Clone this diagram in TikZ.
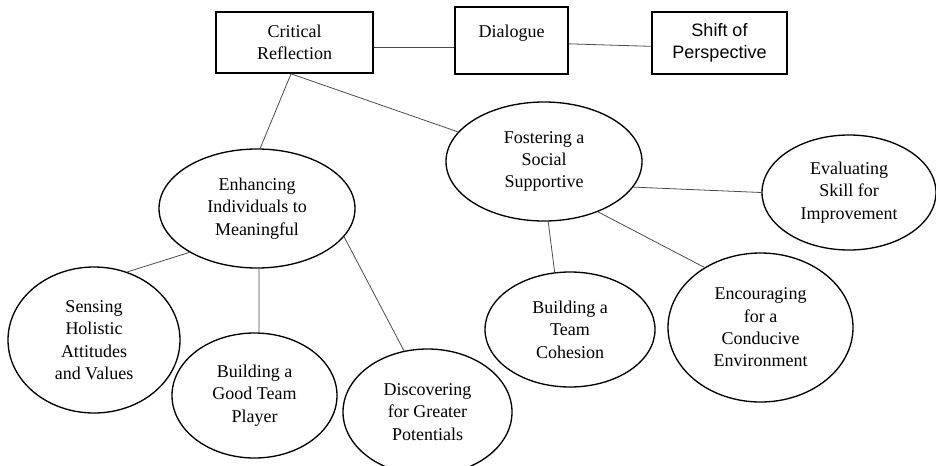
\documentclass[tikz,border=0pt]{standalone}
\usepackage{fontspec}
\setmainfont{Liberation Serif}
\newfontfamily\arialfont{Liberation Sans}
\usetikzlibrary{shapes.geometric}
\tikzset{box/.style = {draw, rectangle, line width = 1.2pt, inner sep = 0, align = center}}
\tikzset{oval/.style = {draw, ellipse, line width = 1pt, inner sep = 0, align = center}}
\tikzset{link/.style = {draw = black!70, line width = 0.6pt}}

\begin{document}
\begin{tikzpicture}[x = 0.75pt, y = -0.75pt, font = \fontsize{13.5}{16.8}\selectfont]
    \useasboundingbox (0,0) rectangle (936,465);
    % top row
    \node[box, minimum width = 117.75pt, minimum height = 45.75pt] (crit) at (294.5,42.5) {Critical\\Reflection};
    \node[box, minimum width = 84.75pt, minimum height = 50.25pt, text height = 9pt, text depth = 14pt] (dia) at (511.5,40.5) {Dialogue};
    \node[box, minimum width = 101.25pt, minimum height = 46.5pt, font = \arialfont\fontsize{13.5}{16.8}\selectfont] (shi) at (719.5,43) {Shift of\\Perspective};
    % ovals
    \node[oval, minimum width = 147pt, minimum height = 89.25pt] (enh) at (257,208.5) {Enhancing\\Individuals to\\Meaningful};
    \node[oval, minimum width = 147pt, minimum height = 89.25pt] (fos) at (544,161.5) {Fostering a\\Social\\Supportive};
    \node[oval, minimum width = 130.5pt, minimum height = 86.25pt] (eva) at (849,192.5) {Evaluating\\Skill for\\Improvement};
    \node[oval, minimum width = 129pt, minimum height = 109.5pt] (sen) at (94,340) {Sensing\\Holistic\\Attitudes\\and Values};
    \node[oval, minimum width = 123.75pt, minimum height = 93.75pt] (bgp) at (254.5,395.5) {Building a\\Good Team\\Player};
    \node[oval, minimum width = 126.75pt, minimum height = 94.5pt] (dis) at (427.5,412) {Discovering\\for Greater\\Potentials};
    \node[oval, minimum width = 127.5pt, minimum height = 86.25pt] (btc) at (570,329.5) {Building a\\Team\\Cohesion};
    \node[oval, minimum width = 138.75pt, minimum height = 111.75pt] (enc) at (760.5,327.5) {Encouraging\\for a\\Conducive\\Environment};
    % links
    \draw[link] ([yshift=-4pt]crit.east) -- ([yshift=-5.5pt]dia.west);
    \draw[link] ([yshift=-2.5pt]dia.east) -- ([yshift=-2.5pt]shi.west);
    \draw[link] ([xshift=-2.6pt]crit.south) -- (enh.87);
    \draw[link] ([xshift=-2.6pt]crit.south) -- (fos.161);
    \draw[link] ([xshift=1.5pt]enh.south) -- ([xshift=3.4pt]bgp.north);
    \foreach \a/\b in {enh.213/sen.64, enh.342/dis.111, fos.274/btc.105, fos.317/enc.133, fos.344/eva.west} {
        \draw[link] (\a) -- (\b);
    }
\end{tikzpicture}
\end{document}
